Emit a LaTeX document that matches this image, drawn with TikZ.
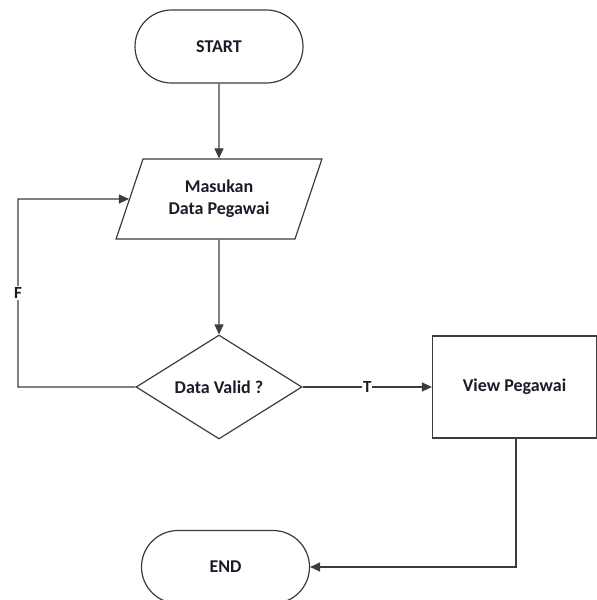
\documentclass[tikz,border=0pt]{standalone}
\usepackage{fontspec}
\setmainfont{Carlito}
\usetikzlibrary{shapes.geometric,shapes.misc,arrows.meta}
\definecolor{lineg}{HTML}{3C3C3C}
\definecolor{txt}{HTML}{1C1C28}
\tikzset{
  base/.style={draw=lineg, line width=1.2pt, fill=white, text=txt, font=\bfseries\fontsize{18}{22}\selectfont, inner sep=0pt, align=center},
  term/.style={base, rounded rectangle, minimum width=168pt, minimum height=73pt},
  io/.style={base, trapezium, trapezium left angle=64.6, trapezium right angle=115.4, trapezium stretches=true, minimum width=206pt, minimum height=80pt},
  decide/.style={base, diamond, minimum width=166pt, minimum height=104pt},
  proc/.style={base, rectangle, minimum width=164pt, minimum height=102pt},
  conn/.style={draw=lineg, line width=1.2pt, -{Triangle[length=10pt,width=9pt]}},
  lbl/.style={fill=white, text=txt, font=\bfseries\fontsize{17}{20}\selectfont, inner sep=1pt}
}
\begin{document}
\begin{tikzpicture}[x=1pt,y=-1pt]
\useasboundingbox (0,0) rectangle (597,600);
\node[term] (start) at (219,46.5) {START};
\node[io] (input) at (219,199) {Masukan\\Data Pegawai};
\node[decide] (valid) at (219,387) {Data Valid ?};
\node[proc] (view) at (514.5,387) {View Pegawai};
\node[term] (end) at (225.5,567) {END};
\coordinate (lf) at (18,387);
\coordinate (lt) at (18,199);
\coordinate (rb) at (516,567);
\draw[conn] (start.south) -- (input.north);
\draw[conn] (input.south) -- (valid.north);
\draw[conn] (valid.west) -- (lf) -- node[lbl, pos=0.5] {F} (lt) -- (input.west);
\draw[conn] (valid.east) -- node[lbl, pos=0.5] {T} (view.west);
\draw[conn] (view.south -| rb) -- (rb) -- (end.east);
\end{tikzpicture}
\end{document}
